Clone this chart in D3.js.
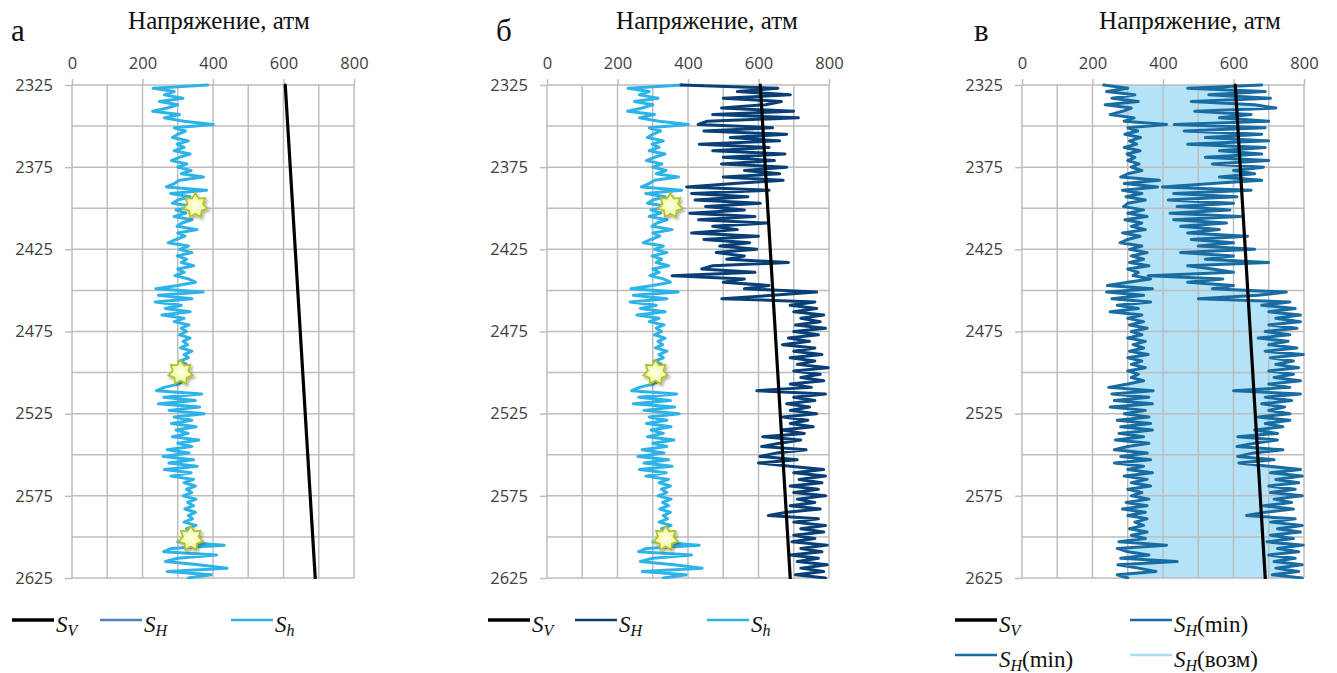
<!DOCTYPE html>
<html>
<head>
<meta charset="utf-8">
<script src="https://cdn.jsdelivr.net/npm/d3@7"></script>
<style>
  body { margin: 0; background: #fff; }
  .tick text { font-family: "Open Sans", sans-serif; font-size: 16.5px; fill: #404040; }
  .serif { font-family: "Liberation Serif", "Times New Roman", "DejaVu Serif", serif; fill: #111; }
</style>
</head>
<body>
<svg id="chart" width="1337" height="673"></svg>
<script>
// depth grid, m
var depthStart = 2325, depthEnd = 2625, depthStep = 2;
var depths = d3.range(depthStart, depthEnd + 0.1, depthStep);

// vertical stress
var svDepths = [2325, 2625];
var svValues = [605, 690];

// minimal horizontal stress S_h
var shLow = [385, 230, 290, 262, 315, 248, 300, 270, 229, 305,
  262, 318, 401, 290, 322, 300, 285, 330, 298, 318,
  290, 335, 305, 282, 326, 300, 338, 310, 373, 305,
  290, 268, 382, 280, 335, 300, 285, 345, 295, 322,
  290, 340, 312, 298, 355, 300, 320, 295, 273, 330,
  305, 340, 298, 325, 310, 345, 300, 318, 292, 330,
  350, 300, 238, 372, 245, 340, 236, 310, 265, 335,
  255, 318, 290, 332, 310, 325, 305, 335, 315, 328,
  308, 340, 318, 330, 305, 325, 312, 298, 320, 292,
  318, 300, 262, 240, 368, 260, 350, 245, 362, 275,
  375, 290, 340, 282, 352, 295, 330, 285, 360, 300,
  340, 270, 332, 258, 345, 275, 355, 262, 338, 280,
  345, 318, 350, 325, 340, 315, 352, 328, 345, 320,
  350, 330, 342, 318, 352, 325, 345, 332, 340, 300,
  432, 282, 260, 410, 300, 265, 360, 440, 270, 395,
  330];

// maximal horizontal stress S_H (panel б)
var shHigh = [380, 655, 540, 690, 500, 665, 620, 495, 700, 470,
  713, 455, 429, 640, 445, 680, 520, 660, 432, 630,
  470, 675, 500, 645, 495, 680, 560, 660, 500, 670,
  530, 396, 630, 410, 570, 420, 605, 450, 560, 405,
  590, 430, 625, 470, 540, 410, 600, 445, 575, 490,
  595, 480, 560, 510, 685, 470, 439, 590, 355, 560,
  500, 630, 560, 765, 640, 496, 760, 690, 765, 700,
  785, 720, 775, 705, 790, 700, 770, 685, 745, 668,
  760, 700, 780, 690, 760, 710, 798, 700, 775, 720,
  785, 690, 750, 595, 790, 700, 760, 680, 745, 690,
  765, 670, 740, 690, 755, 665, 730, 612, 720, 660,
  609, 735, 650, 604, 710, 600, 690, 785, 700, 790,
  715, 780, 690, 770, 700, 790, 710, 760, 690, 775,
  680, 628, 770, 700, 790, 720, 785, 700, 760, 695,
  795, 720, 780, 690, 770, 710, 795, 720, 785, 705,
  790];

// S_H range (panel в)
var shMin = [232, 300, 240, 320, 255, 330, 236, 310, 285, 250,
  318, 290, 410, 300, 328, 292, 336, 305, 325, 290,
  335, 298, 320, 300, 332, 310, 340, 300, 280, 390,
  290, 385, 285, 340, 295, 350, 300, 288, 345, 300,
  355, 292, 340, 310, 350, 285, 335, 300, 278, 340,
  305, 355, 310, 345, 305, 360, 300, 330, 315, 365,
  300, 242, 370, 240, 345, 255, 365, 270, 330, 250,
  340, 300, 345, 305, 355, 310, 340, 300, 350, 315,
  345, 305, 358, 300, 340, 310, 350, 300, 330, 310,
  345, 300, 246, 372, 255, 360, 262, 370, 250, 350,
  290, 360, 270, 365, 280, 370, 275, 345, 265, 360,
  300, 262, 355, 280, 365, 262, 345, 300, 370, 290,
  355, 310, 365, 300, 340, 310, 360, 295, 355, 285,
  350, 300, 355, 320, 345, 305, 355, 310, 350, 275,
  410, 270, 300, 360, 280, 440, 272, 330, 380, 270,
  300];
var shMax = [680, 470, 690, 530, 705, 480, 660, 720, 490, 650,
  560, 700, 432, 690, 460, 680, 520, 700, 470, 690,
  560, 680, 520, 700, 540, 685, 600, 660, 560, 680,
  540, 398, 650, 430, 610, 415, 600, 440, 590, 420,
  620, 430, 580, 450, 560, 470, 640, 480, 600, 500,
  660, 450, 600, 520, 700, 470, 540, 600, 358, 570,
  470, 600, 540, 750, 670, 500, 760, 680, 775, 700,
  790, 720, 790, 700, 780, 690, 760, 670, 755, 700,
  780, 690, 798, 705, 770, 720, 785, 700, 770, 715,
  790, 700, 760, 600, 790, 690, 765, 680, 745, 700,
  760, 670, 760, 690, 740, 660, 725, 612, 725, 660,
  610, 740, 655, 612, 715, 615, 700, 790, 705, 795,
  720, 785, 700, 775, 705, 795, 715, 765, 685, 770,
  690, 637, 775, 705, 795, 725, 790, 705, 770, 695,
  798, 725, 785, 700, 775, 715, 795, 720, 785, 710,
  795];

// star markers (panels а, б)
var starDepths = [2398.5, 2500, 2601];
var starValues = [350, 308, 337];

var xTicks = [0, 200, 400, 600, 800];
var yTicks = [2325, 2375, 2425, 2475, 2525, 2575, 2625];
var titleText = "Напряжение, атм";

var svg = d3.select("#chart");
var W = 282, H = 493, top0 = 85;

var panels = [
  { left: 72, letter: "а", letterX: 11, titleX: 219 },
  { left: 547, letter: "б", letterX: 496, titleX: 707 },
  { left: 1022, letter: "в", letterX: 974, titleX: 1190 }
];

var x = d3.scaleLinear().domain([0, 800]).range([0, W]);
var y = d3.scaleLinear().domain([depthStart, depthEnd]).range([0, H]);

var defs = svg.append("defs");
var grad = defs.append("radialGradient").attr("id", "starFill");
grad.append("stop").attr("offset", "0%").attr("stop-color", "#fdffe6");
grad.append("stop").attr("offset", "100%").attr("stop-color", "#eef79a");
var shadow = defs.append("filter").attr("id", "shadow").attr("x", "-50%").attr("y", "-50%").attr("width", "200%").attr("height", "200%");
shadow.append("feDropShadow").attr("dx", 1.5).attr("dy", 2).attr("stdDeviation", 1.5).attr("flood-color", "#000").attr("flood-opacity", 0.35);

function starPath(r0, r1, n) {
  var pts = d3.range(n * 2).map(function (i) {
    return [i * Math.PI / n, i % 2 === 0 ? r0 : r1];
  });
  return d3.lineRadial().curve(d3.curveLinearClosed)(pts);
}

var lineOf = function (vals) {
  return d3.line()
    .x(function (d, i) { return x(vals[i]); })
    .y(function (d) { return y(d); })(depths);
};

var svLine = d3.line()
  .x(function (d, i) { return x(svValues[i]); })
  .y(function (d) { return y(d); });

panels.forEach(function (p, k) {
  var g = svg.append("g").attr("transform", "translate(" + p.left + "," + top0 + ")");

  defs.append("clipPath").attr("id", "clip" + k)
    .append("rect").attr("x", 0).attr("y", -2).attr("width", W + 2).attr("height", H + 3);

  svg.append("text").attr("class", "serif")
    .attr("x", p.letterX).attr("y", 41)
    .style("font-size", "31px")
    .text(p.letter);
  svg.append("text").attr("class", "serif")
    .attr("x", p.titleX).attr("y", 29).attr("text-anchor", "middle")
    .style("font-size", "25px")
    .text(titleText);

  var plot = g.append("g").attr("clip-path", "url(#clip" + k + ")");

  // band fill in panel в
  if (k === 2) {
    plot.append("path")
      .attr("d", d3.area()
        .x0(function (d, i) { return x(shMin[i]); })
        .x1(function (d, i) { return x(shMax[i]); })
        .y(function (d) { return y(d); })(depths))
      .attr("fill", "rgb(105,198,238)").attr("fill-opacity", 0.5);
  }

  // grid
  g.append("g").selectAll("line").data(d3.range(0, 801, 100)).enter().append("line")
    .attr("x1", function (d) { return x(d); }).attr("x2", function (d) { return x(d); })
    .attr("y1", 0).attr("y2", H)
    .attr("stroke", "#bdbdbd").attr("stroke-width", 1.5);
  g.append("g").selectAll("line").data(d3.range(2325, 2626, 25)).enter().append("line")
    .attr("y1", function (d) { return y(d); }).attr("y2", function (d) { return y(d); })
    .attr("x1", 0).attr("x2", W)
    .attr("stroke", "#bdbdbd").attr("stroke-width", 1.5);

  var xa = g.append("g").call(d3.axisTop(x).tickValues(xTicks).tickSize(6).tickPadding(8).tickFormat(d3.format("d")));
  var ya = g.append("g").call(d3.axisLeft(y).tickValues(yTicks).tickSize(7).tickPadding(12).tickFormat(d3.format("d")));
  [xa, ya].forEach(function (a) {
    a.select(".domain").remove();
    a.selectAll(".tick line").attr("stroke", "#bdbdbd").attr("stroke-width", 1.5);
  });
  xa.selectAll(".tick text").attr("dy", "-0.1em");

  var lines = g.append("g").attr("clip-path", "url(#clip" + k + ")")
    .attr("fill", "none").attr("stroke-linejoin", "round").attr("stroke-linecap", "round");

  if (k < 2) {
    lines.append("path").attr("d", lineOf(shLow))
      .attr("stroke", "#2eb3e8").attr("stroke-width", 3);
  }
  if (k === 1) {
    lines.append("path").attr("d", lineOf(shHigh))
      .attr("stroke", "#073f76").attr("stroke-width", 3);
  }
  if (k === 2) {
    lines.append("path").attr("d", lineOf(shMin))
      .attr("stroke", "#196ca2").attr("stroke-width", 3);
    lines.append("path").attr("d", lineOf(shMax))
      .attr("stroke", "#196ca2").attr("stroke-width", 3);
  }
  lines.append("path").attr("d", svLine(svDepths))
    .attr("stroke", "#000").attr("stroke-width", 3.2);

  if (k < 2) {
    g.append("g").selectAll("path").data(starDepths).enter().append("path")
      .attr("transform", function (d, i) { return "translate(" + x(starValues[i]) + "," + y(d) + ")"; })
      .attr("d", starPath(12.5, 8, 7))
      .attr("fill", "url(#starFill)").attr("stroke", "#b4c22c").attr("stroke-width", 1.8)
      .attr("filter", "url(#shadow)");
  }
});

// legends
function legendItem(lx, ly, color, width, sub, tail) {
  svg.append("line").attr("x1", lx).attr("x2", lx + 42).attr("y1", ly).attr("y2", ly)
    .attr("stroke", color).attr("stroke-width", width);
  var t = svg.append("text").attr("class", "serif").attr("x", lx + 44).attr("y", ly + 12)
    .style("font-size", "23px");
  t.append("tspan").style("font-style", "italic").text("S");
  t.append("tspan").style("font-style", "italic").style("font-size", "16px").attr("dy", 4).text(sub);
  if (tail) t.append("tspan").attr("dy", -4).text(tail);
}

legendItem(12, 620, "#000", 3.5, "V");
legendItem(100, 620, "#4f81bd", 2.6, "H");
legendItem(231, 620, "#2eb3e8", 2.6, "h");

legendItem(488, 620, "#000", 3.5, "V");
legendItem(575, 620, "#073f76", 2.6, "H");
legendItem(707, 620, "#2eb3e8", 2.6, "h");

legendItem(955, 620, "#000", 3.5, "V");
legendItem(1130, 620, "#196ca2", 2.6, "H", "(min)");
legendItem(955, 655, "#196ca2", 2.6, "H", "(min)");
legendItem(1130, 655, "#a9dcf2", 2.6, "H", "(возм)");
</script>
</body>
</html>
